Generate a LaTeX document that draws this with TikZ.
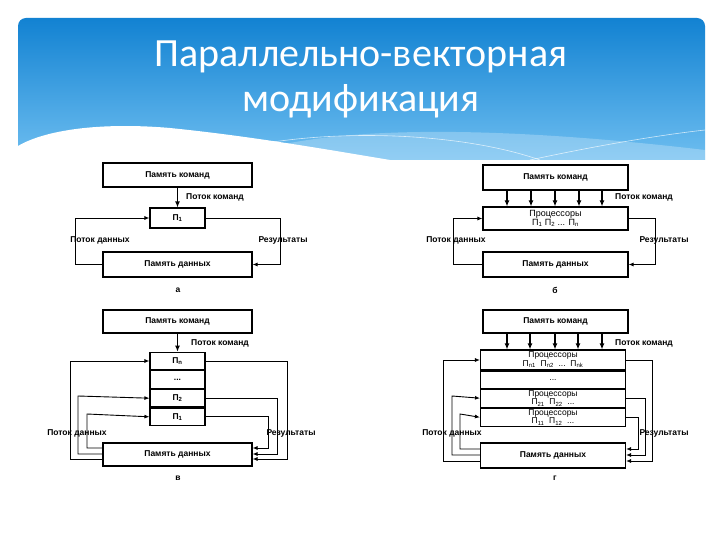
\documentclass[tikz,border=0pt]{standalone}
\usepackage{fontspec}
\setmainfont{Liberation Sans}
\newfontfamily\titlefont{Carlito}
\usetikzlibrary{arrows.meta}
\begin{document}
\begin{tikzpicture}[x=1pt,y=-1pt,
  box/.style={draw,line width=1.1pt,inner sep=0pt,font=\fontsize{8.5}{9}\selectfont\bfseries},
  lbl/.style={font=\fontsize{8.5}{9}\selectfont\bfseries,inner sep=1pt},
  ln/.style={line width=0.9pt},
  arr/.style={ln,-{Latex[length=5pt,width=4pt]}},
  tarr/.style={line width=1.4pt,-{Latex[length=6pt,width=5pt]}}]
\useasboundingbox (0,0) rectangle (720,540);
\fill[white] (0,0) rectangle (720,540);
% banner
\shade[top color={rgb,255:red,18;green,130;blue,210},bottom color={rgb,255:red,110;green,190;blue,240}]
  (18,160) -- (18,26) arc[start angle=180,end angle=90,radius=8pt] -- (697,18) arc[start angle=90,end angle=0,radius=8pt] -- (705,160) -- cycle;
\fill[white,opacity=0.25] (230,160) .. controls (300,130) and (450,120) .. (705,150) -- (705,160) -- cycle;
\draw[white,opacity=0.7,line width=0.6pt] (240,148) .. controls (330,128) and (460,132) .. (540,160);
\draw[white,opacity=0.7,line width=0.6pt] (530,160) .. controls (600,145) and (660,135) .. (705,130);
\fill[white] (18,160) -- (18,146) .. controls (45,130) and (100,122) .. (170,128) .. controls (250,136) and (330,150) .. (390,160) -- cycle;
\node[white,font=\titlefont\fontsize{40}{45}\selectfont,align=center] (title) at (361,79) {Параллельно-векторная\\модификация};

% ---------- a ----------
\node[box,minimum width=149pt,minimum height=24pt] (ka) at (177.5,175) {Память команд};
\node[box,minimum width=55pt,minimum height=20pt] (pa) at (177.5,218) {П\textsubscript{1}};
\node[box,minimum width=149pt,minimum height=25pt] (da) at (177.5,264.5) {Память данных};
\draw[tarr] (ka.south) -- (pa.north);
\node[lbl,anchor=west] (pka) at (185,197) {Поток команд};
\draw[arr] (da.west) -| (75,218) -- (pa.west);
\draw[arr] (pa.east) -| (280,264.5) -- (da.east);
\node[lbl] (pda) at (100,240) {Поток данных};
\node[lbl] (ra) at (283,240) {Результаты};
\node[lbl] (ca) at (178,290) {а};

% ---------- b ----------
\node[box,minimum width=145pt,minimum height=25pt] (kb) at (555.5,177.5) {Память команд};
\node[box,minimum width=145pt,minimum height=23pt,align=center,font=\fontsize{9}{9.5}\selectfont] (pb) at (555.5,218.5) {Процессоры\\П\textsubscript{1} П\textsubscript{2} ... П\textsubscript{n}};
\node[box,minimum width=145pt,minimum height=25pt] (db) at (555.5,264.5) {Память данных};
\foreach \x in {507,531,555,579,602}{\draw[tarr] (kb.south -| \x,0) -- (pb.north -| \x,0);}
\node[lbl,anchor=west] (pkb) at (614,197) {Поток команд};
\draw[arr] (db.west) -| (453,218.5) -- (pb.west);
\draw[arr] (pb.east) -| (655,264.5) -- (db.east);
\node[lbl] (pdb) at (456,240) {Поток данных};
\node[lbl] (rb) at (664,240) {Результаты};
\node[lbl] (cb) at (555,290) {б};

% ---------- v ----------
\node[box,minimum width=149pt,minimum height=23pt] (kv) at (177.5,321.5) {Память команд};
\node[box,minimum width=55pt,minimum height=17.5pt] (v4) at (177.5,361) {П\textsubscript{n}};
\node[box,minimum width=55pt,minimum height=17.5pt,anchor=north] (v3) at (v4.south) {...};
\node[box,minimum width=55pt,minimum height=17.5pt,anchor=north] (v2) at (v3.south) {П\textsubscript{2}};
\node[box,minimum width=55pt,minimum height=17.5pt,anchor=north] (v1) at (v2.south) {П\textsubscript{1}};
\node[box,minimum width=149pt,minimum height=23pt] (dv) at (177.5,454.5) {Память данных};
\draw[tarr] (kv.south) -- (v4.north);
\node[lbl,anchor=west] (pkv) at (190,343) {Поток команд};
\draw[arr] (dv.west |- 0,459) -| (70,361) -- (v4.west);
\draw[arr] (dv.west |- 0,454) -| (78,396) -- (v2.west);
\draw[arr] (dv.west |- 0,448) -| (87,414) -- (v1.west);
\draw[arr] (v4.east) -| (287,459) -- (dv.east |- 0,459);
\draw[arr] (v2.east) -| (277,454) -- (dv.east |- 0,454);
\draw[arr] (v1.east) -| (268,448) -- (dv.east |- 0,448);
\node[lbl] (pdv) at (77,433) {Поток данных};
\node[lbl] (rv) at (291,433) {Результаты};
\node[lbl] (cv) at (178,478) {в};

% ---------- g ----------
\node[box,minimum width=145pt,minimum height=23pt] (kg) at (555.5,321.5) {Память команд};
\tikzset{gbox/.style={box,minimum width=145pt,align=center,font=\fontsize{8.5}{8.5}\selectfont}}
\node[gbox,minimum height=20pt] (g4) at (553,360) {Процессоры\\П\textsubscript{n1}\ \ П\textsubscript{n2}\ \ ...\ \ П\textsubscript{nk}};
\node[gbox,minimum height=17pt,anchor=north] (g3) at (g4.south) {...};
\node[gbox,minimum height=18pt,anchor=north] (g2) at (g3.south) {Процессоры\\П\textsubscript{21}\ \ П\textsubscript{22}\ \ ...};
\node[gbox,minimum height=18pt,anchor=north] (g1) at (g2.south) {Процессоры\\П\textsubscript{11}\ \ П\textsubscript{12}\ \ ...};
\node[box,minimum width=145pt,minimum height=25pt] (dg) at (553,455.5) {Память данных};
\foreach \x in {507,530,555,578,602}{\draw[tarr] (kg.south -| \x,0) -- (g4.north -| \x,0);}
\node[lbl,anchor=west] (pkg) at (614,343) {Поток команд};
\draw[arr] (dg.west |- 0,461) -| (443,360) -- (g4.west);
\draw[arr] (dg.west |- 0,455) -| (452,396) -- (g2.west);
\draw[arr] (dg.west |- 0,449) -| (460,414) -- (g1.west);
\draw[arr] (g4.east) -| (652,461) -- (dg.east |- 0,461);
\draw[arr] (g2.east) -| (645,455) -- (dg.east |- 0,455);
\draw[arr] (g1.east) -| (638,449) -- (dg.east |- 0,449);
\node[lbl] (pdg) at (452,433) {Поток данных};
\node[lbl] (rg) at (664,433) {Результаты};
\node[lbl] (cg) at (555,478) {г};
\end{tikzpicture}
\end{document}
